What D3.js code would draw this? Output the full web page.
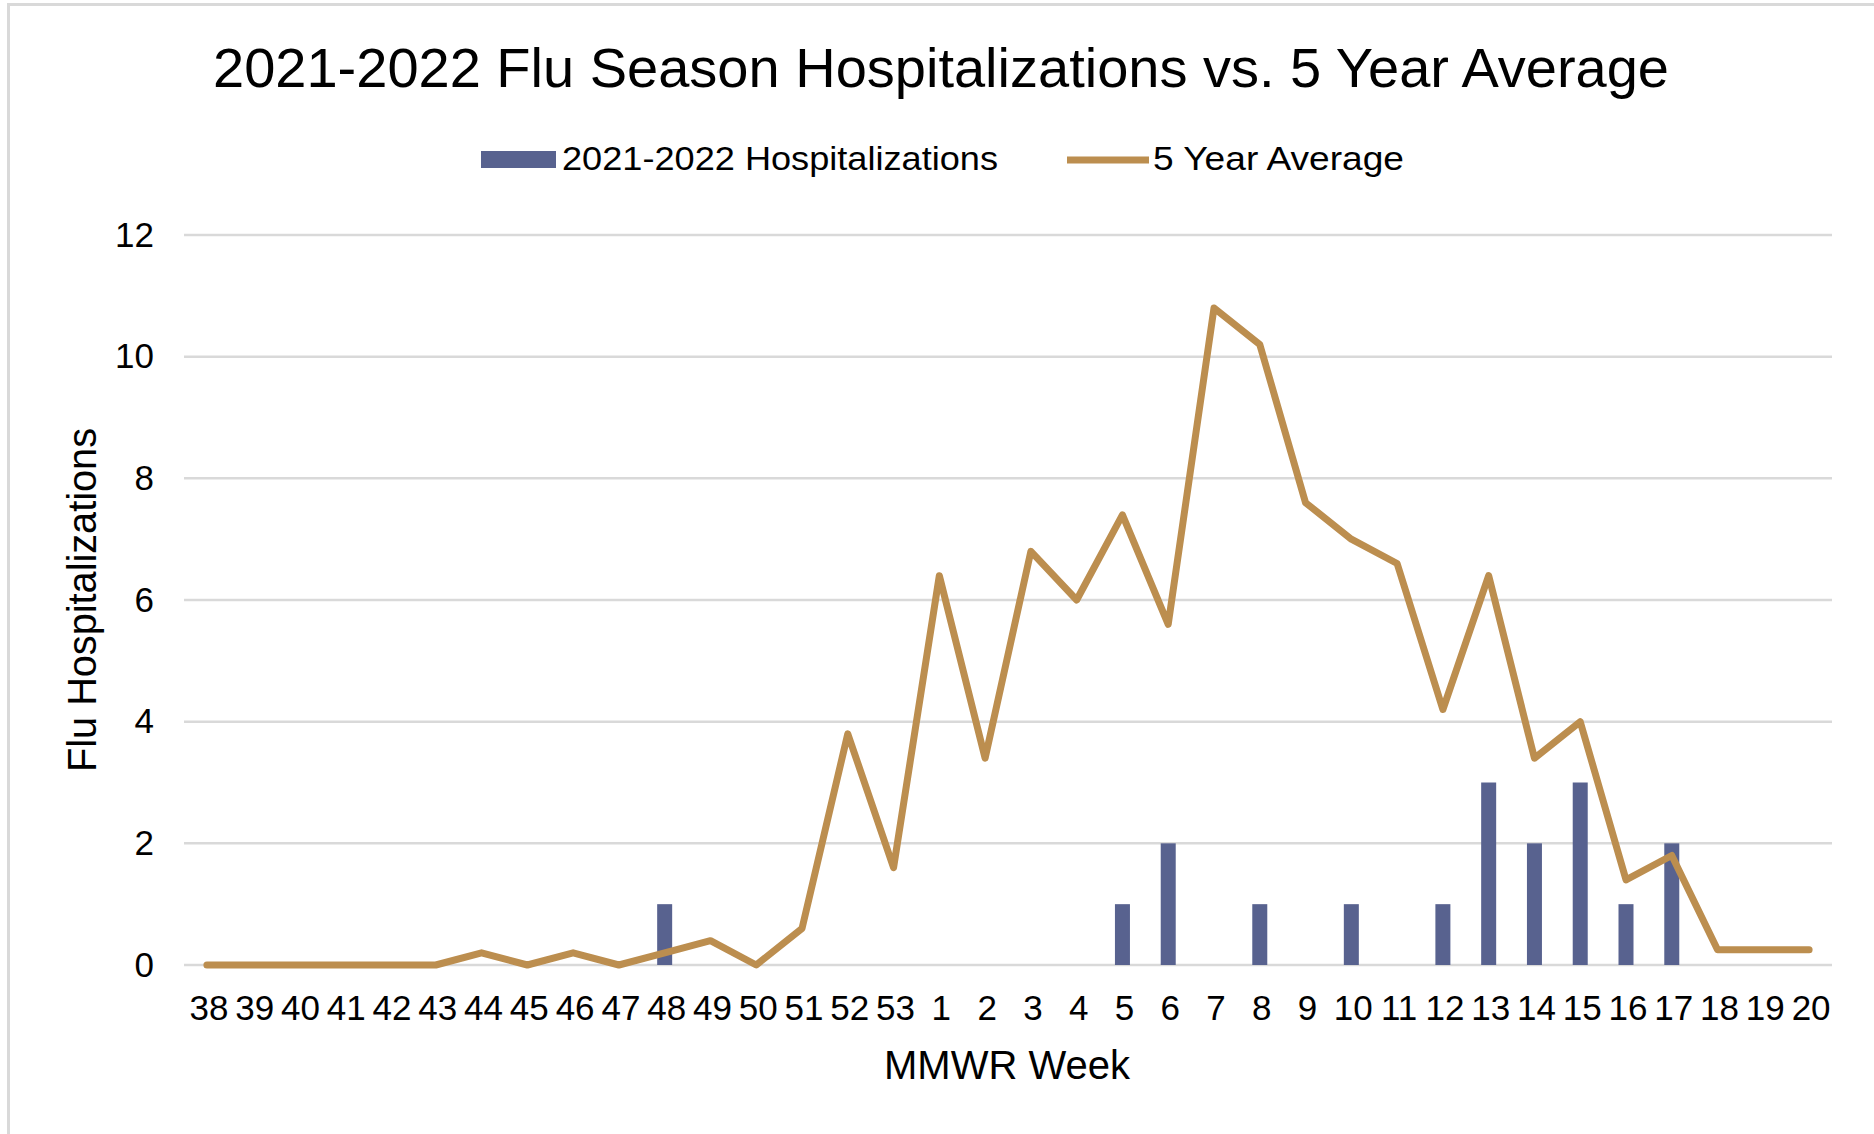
<!DOCTYPE html>
<html>
<head>
<meta charset="utf-8">
<script src="https://cdn.jsdelivr.net/npm/d3@7"></script>
<style>
  html, body { margin: 0; padding: 0; background: #ffffff; }
  svg { display: block; }
  text { font-family: "Liberation Sans", Arial, sans-serif; fill: #000; }
</style>
</head>
<body>
<svg id="chart" width="1874" height="1134"></svg>
<script>
const weeks = ["38","39","40","41","42","43","44","45","46","47","48","49","50","51","52","53",
  "1","2","3","4","5","6","7","8","9","10","11","12","13","14","15","16","17","18","19","20"];
const hospitalizations = [0,0,0,0,0,0,0,0,0,0,1,0,0,0,0,0,
  0,0,0,0,1,2,0,1,0,1,0,1,3,2,3,1,2,0,0,0];
const fiveYearAverage = [0,0,0,0,0,0,0.2,0,0.2,0,0.2,0.4,0,0.6,3.8,1.6,
  6.4,3.4,6.8,6.0,7.4,5.6,10.8,10.2,7.6,7.0,6.6,4.2,6.4,3.4,4.0,1.4,1.8,0.25,0.25,0.25];
const yTicks = [0,2,4,6,8,10,12];
const titleText = "2021-2022 Flu Season Hospitalizations vs. 5 Year Average";
const seriesNames = ["2021-2022 Hospitalizations", "5 Year Average"];
const xTitle = "MMWR Week";
const yTitle = "Flu Hospitalizations";

const barColor = "#58628F";
const lineColor = "#BC8E4F";
const gridColor = "#D9D9D9";

const svg = d3.select("#chart");
const W = 1874, H = 1134;
const plot = {left: 184, right: 1832, top: 235, bottom: 965};

// border (top and left only, as in the crop)
svg.append("line").attr("x1", 7).attr("x2", W).attr("y1", 4.5).attr("y2", 4.5)
  .attr("stroke", gridColor).attr("stroke-width", 3);
svg.append("line").attr("x1", 8.5).attr("x2", 8.5).attr("y1", 3).attr("y2", H)
  .attr("stroke", gridColor).attr("stroke-width", 3);

const x = d3.scaleBand().domain(weeks).range([plot.left, plot.right]).padding(0);
const y = d3.scaleLinear().domain([0, 12]).range([plot.bottom, plot.top]);

// gridlines
svg.append("g").selectAll("line").data(yTicks).join("line")
  .attr("x1", plot.left).attr("x2", plot.right)
  .attr("y1", d => y(d)).attr("y2", d => y(d))
  .attr("stroke", gridColor).attr("stroke-width", 2.5);

// y axis labels
const yAxis = d3.axisLeft(y).tickValues(yTicks).tickSize(0).tickPadding(0).tickFormat(d3.format("d"));
const yg = svg.append("g").attr("transform", `translate(154,0)`).call(yAxis);
yg.select(".domain").remove();
yg.selectAll("text").attr("font-size", 35).attr("fill", "#000")
  .attr("font-family", "Liberation Sans, Arial, sans-serif").attr("dy", "0.32em");

// x axis labels
const xAxis = d3.axisBottom(x).tickSize(0).tickPadding(0);
const xg = svg.append("g").attr("transform", `translate(2,${plot.bottom})`).call(xAxis);
xg.select(".domain").remove();
xg.selectAll("text").attr("font-size", 35).attr("fill", "#000")
  .attr("font-family", "Liberation Sans, Arial, sans-serif")
  .attr("y", 55).attr("dy", 0);

// bars
const barW = 15;
svg.append("g").selectAll("rect").data(weeks.map((w, i) => ({w, v: hospitalizations[i]})).filter(d => d.v > 0))
  .join("rect")
  .attr("x", d => x(d.w) + x.bandwidth() / 2 - barW / 2)
  .attr("width", barW)
  .attr("y", d => y(d.v))
  .attr("height", d => y(0) - y(d.v))
  .attr("fill", barColor);

// line
const line = d3.line().x((d, i) => x(weeks[i]) + x.bandwidth() / 2).y(d => y(d));
svg.append("path").datum(fiveYearAverage)
  .attr("d", line)
  .attr("fill", "none").attr("stroke", lineColor).attr("stroke-width", 7)
  .attr("stroke-linejoin", "round").attr("stroke-linecap", "round");

// title
svg.append("text").attr("x", 941).attr("y", 87).attr("text-anchor", "middle")
  .attr("font-size", 56).attr("textLength", 1456).attr("lengthAdjust", "spacingAndGlyphs")
  .text(titleText);

// legend
svg.append("rect").attr("x", 481).attr("y", 151).attr("width", 75).attr("height", 17).attr("fill", barColor);
svg.append("text").attr("x", 562).attr("y", 170).attr("font-size", 34)
  .attr("textLength", 436).attr("lengthAdjust", "spacingAndGlyphs").text(seriesNames[0]);
svg.append("line").attr("x1", 1067).attr("x2", 1149).attr("y1", 160).attr("y2", 160)
  .attr("stroke", lineColor).attr("stroke-width", 7);
svg.append("text").attr("x", 1153).attr("y", 170).attr("font-size", 34)
  .attr("textLength", 251).attr("lengthAdjust", "spacingAndGlyphs").text(seriesNames[1]);

// axis titles
svg.append("text").attr("x", 1007).attr("y", 1079).attr("text-anchor", "middle")
  .attr("font-size", 40).attr("textLength", 246).attr("lengthAdjust", "spacingAndGlyphs").text(xTitle);
svg.append("text").attr("transform", "translate(96,600) rotate(-90)").attr("text-anchor", "middle")
  .attr("font-size", 40).attr("textLength", 344).attr("lengthAdjust", "spacingAndGlyphs").text(yTitle);
</script>
</body>
</html>
